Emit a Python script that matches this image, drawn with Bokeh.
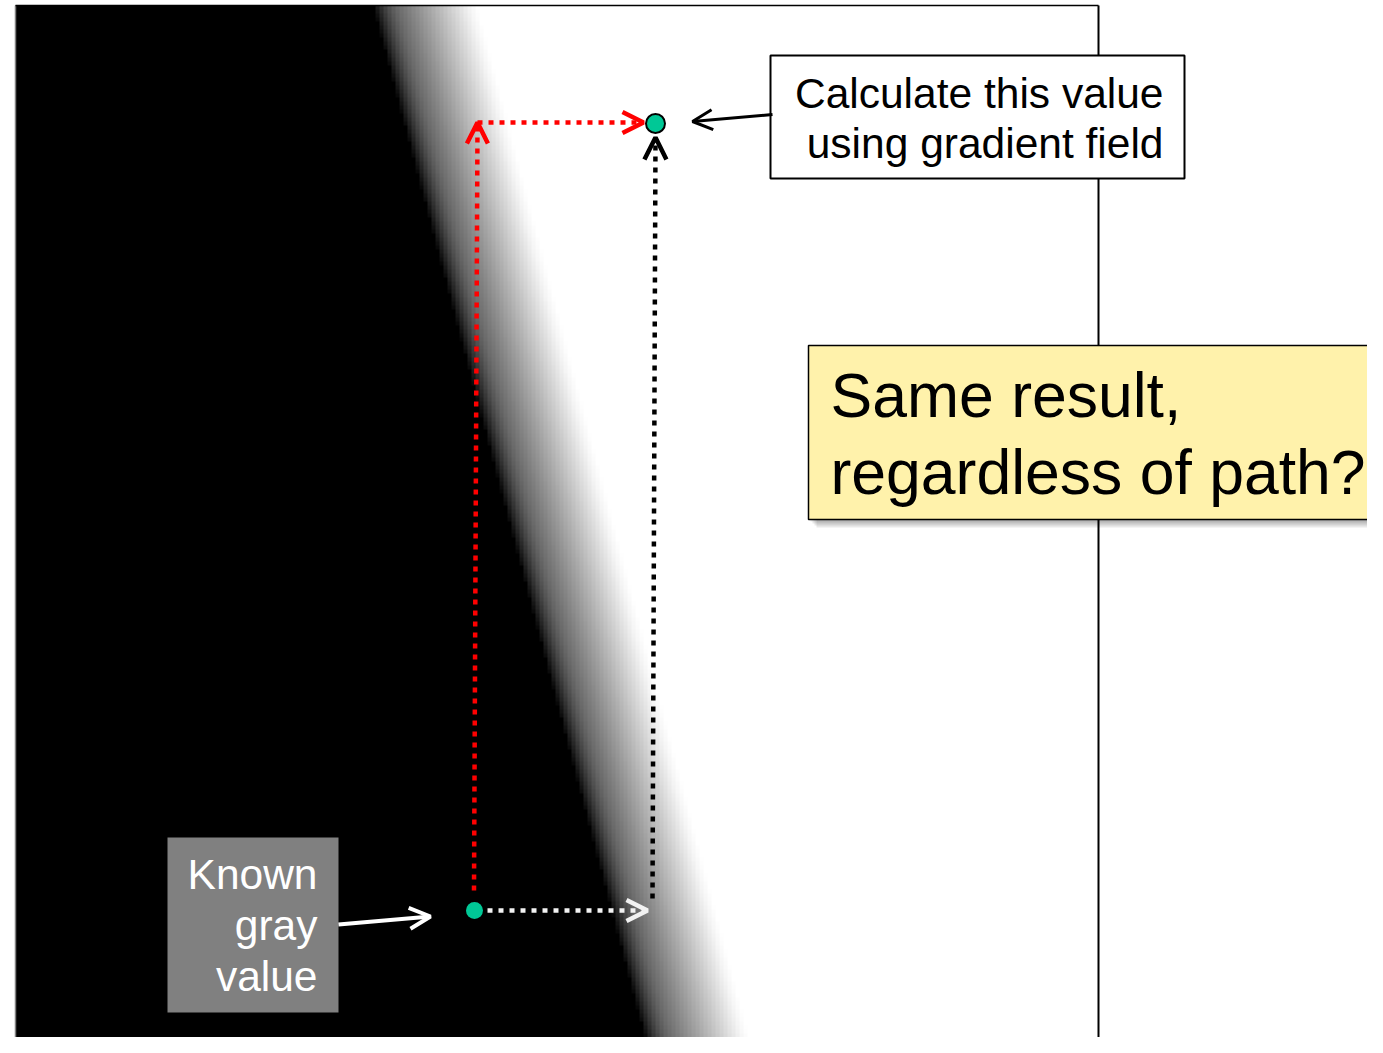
import numpy as np
from bokeh.plotting import figure
from bokeh.models import Range1d, Arrow, OpenHead, LinearColorMapper
from bokeh.core.properties import value
from bokeh.embed import file_html
from bokeh.resources import INLINE

# ---------------- data (page pixel units, y measured downward yp) ----------------
PAGE_H = 1053
frame_x = [15, 1098]          # image frame left / right
frame_yp = [5, 1053]          # image frame top / bottom
edge_start_x = [373, 649]     # x where the dark->light ramp starts, at frame top / bottom
ramp_offsets = [0, 4, 8, 12, 16, 20, 24, 28, 32, 36, 40, 44, 48, 52, 56, 60, 64, 68,
                72, 76, 80, 84, 88, 92, 96, 100, 104]
ramp_levels = [0.03, 0.12, 0.20, 0.27, 0.33, 0.38, 0.42, 0.45, 0.48, 0.51, 0.54, 0.57,
               0.60, 0.63, 0.66, 0.69, 0.72, 0.75, 0.78, 0.81, 0.84, 0.87, 0.90, 0.93,
               0.96, 0.98, 1.00]

known_pt = [474, 910]
target_pt = [655, 123]

red_path_x = [473.5, 477, 643]
red_path_yp = [890, 122, 122]
black_path_x = [652, 655]
black_path_yp = [898, 137]
white_path_x = [487, 647]
white_path_yp = [910, 910]

callout_box = [770, 1184, 55, 178]          # left, right, top, bottom
callout_lines = ["Calculate this value", "using gradient field"]
callout_text_x = 1163
callout_baselines = [107, 157]
callout_arrow = [772, 114, 692, 121]        # x0, yp0, x1, yp1

question_box = [808, 1420, 345, 519]
question_lines = ["Same result,", "regardless of path?"]
question_text_x = 830
question_baselines = [416, 493]

known_box = [167, 338, 837, 1012]
known_lines = ["Known", "gray", "value"]
known_text_x = 317
known_baselines = [888, 939, 990]
known_arrow = [338, 924, 430, 916]

teal = "#00C896"
yellow = "#FFF2AB"
FONT = value("Liberation Sans")
SMALL = 42.5
BIG = 62.5
BASE_SHIFT = 0.34   # renderer places the alphabetic baseline this fraction of size too low


def Y(yp):
    return PAGE_H - yp


def base(yp, size):
    return Y(yp - BASE_SHIFT * size)


W, H = 1367, 1037
p = figure(width=W, height=H,
           x_range=Range1d(0, W), y_range=Range1d(Y(H), Y(0)),
           output_backend="svg", toolbar_location=None, min_border=0,
           x_axis_location=None, y_axis_location=None)
p.grid.visible = False
p.outline_line_color = None
p.background_fill_color = "white"
p.border_fill_color = "white"

# ---------------- gradient image ----------------
bs = 4
nx = (frame_x[1] - frame_x[0]) // bs
ny = (frame_yp[1] - frame_yp[0]) // bs
rows = np.arange(ny)
cols = np.arange(nx)
yp_c = frame_yp[1] - (rows + 0.5) * bs
start = edge_start_x[0] + (yp_c - frame_yp[0]) / (frame_yp[1] - frame_yp[0]) * (edge_start_x[1] - edge_start_x[0])
xc = frame_x[0] + (cols + 0.5) * bs
d = xc[None, :] - start[:, None]
img = np.interp(d, ramp_offsets, ramp_levels, left=0.0, right=1.0)
gray = ["#%02x%02x%02x" % (i, i, i) for i in range(256)]
mapper = LinearColorMapper(palette=gray, low=0, high=1)
p.image(image=[img], x=frame_x[0], y=Y(frame_yp[1]), dw=nx * bs, dh=ny * bs,
        color_mapper=mapper)

# frame borders
p.segment(x0=[frame_x[0]], y0=[Y(frame_yp[1])], x1=[frame_x[0]], y1=[Y(frame_yp[0])],
          line_color="#808080", line_width=1.5)
p.segment(x0=[frame_x[0]], y0=[Y(frame_yp[0])], x1=[frame_x[1]], y1=[Y(frame_yp[0])],
          line_color="black", line_width=1.5)
p.segment(x0=[frame_x[1]], y0=[Y(frame_yp[1])], x1=[frame_x[1]], y1=[Y(frame_yp[0])],
          line_color="black", line_width=2)

# ---------------- dotted paths with arrows ----------------
DASH = "5 6"
p.line(x=red_path_x[:2], y=[Y(v) for v in red_path_yp[:2]], line_color="red",
       line_width=4.5, line_dash=DASH)
p.add_layout(Arrow(end=OpenHead(size=21, line_color="red", line_width=4.5),
                   x_start=red_path_x[0], y_start=Y(red_path_yp[0]) - 1,
                   x_end=red_path_x[1], y_end=Y(red_path_yp[1]),
                   line_alpha=0))
p.add_layout(Arrow(end=OpenHead(size=21, line_color="red", line_width=4.5),
                   x_start=red_path_x[1], y_start=Y(red_path_yp[1]),
                   x_end=red_path_x[2], y_end=Y(red_path_yp[2]),
                   line_color="red", line_width=4.5, line_dash=DASH))
p.add_layout(Arrow(end=OpenHead(size=22, line_color="black", line_width=4.5),
                   x_start=black_path_x[0], y_start=Y(black_path_yp[0]),
                   x_end=black_path_x[1], y_end=Y(black_path_yp[1]),
                   line_color="black", line_width=4.5, line_dash=DASH))
p.add_layout(Arrow(end=OpenHead(size=21, line_color="#f2f2f2", line_width=4.5),
                   x_start=white_path_x[0], y_start=Y(white_path_yp[0]),
                   x_end=white_path_x[1], y_end=Y(white_path_yp[1]),
                   line_color="#f2f2f2", line_width=4.5, line_dash=DASH))

# points
p.scatter(x=[known_pt[0]], y=[Y(known_pt[1])], size=17, marker="circle",
          fill_color=teal, line_color=None)
p.scatter(x=[target_pt[0]], y=[Y(target_pt[1])], size=19, marker="circle",
          fill_color=teal, line_color="black", line_width=2)

# ---------------- callout box ----------------
l, r, t, b = callout_box
p.quad(left=[l], right=[r], top=[Y(t)], bottom=[Y(b)], fill_color="white",
       line_color="black", line_width=2)
p.text(x=[callout_text_x] * 2, y=[base(v, SMALL) for v in callout_baselines],
       text=callout_lines, text_align="right", text_baseline="alphabetic",
       text_font=FONT, text_font_size=value(f"{SMALL}px"), text_color="black")
x0, y0, x1, y1 = callout_arrow
p.add_layout(Arrow(end=OpenHead(size=20, line_color="black", line_width=3),
                   x_start=x0, y_start=Y(y0), x_end=x1, y_end=Y(y1),
                   line_color="black", line_width=3))

# ---------------- question box with shadow ----------------
l, r, t, b = question_box
for k in [2, 4, 6, 8]:
    p.quad(left=[l + k], right=[r], top=[Y(t + k)], bottom=[Y(b + k)],
           fill_color="black", fill_alpha=0.09, line_color=None)
p.quad(left=[l], right=[r], top=[Y(t)], bottom=[Y(b)], fill_color=yellow,
       line_color="black", line_width=1.5)
p.text(x=[question_text_x] * 2, y=[base(v, BIG) for v in question_baselines],
       text=question_lines, text_align="left", text_baseline="alphabetic",
       text_font=FONT, text_font_size=value(f"{BIG}px"), text_color="black")

# ---------------- known value box ----------------
l, r, t, b = known_box
p.quad(left=[l], right=[r], top=[Y(t)], bottom=[Y(b)], fill_color="#808080",
       line_color=None)
p.text(x=[known_text_x] * 3, y=[base(v, SMALL) for v in known_baselines],
       text=known_lines, text_align="right", text_baseline="alphabetic",
       text_font=FONT, text_font_size=value(f"{SMALL}px"), text_color="white")
x0, y0, x1, y1 = known_arrow
p.add_layout(Arrow(end=OpenHead(size=21, line_color="white", line_width=4),
                   x_start=x0, y_start=Y(y0), x_end=x1, y_end=Y(y1),
                   line_color="white", line_width=4))

open("out.html", "w").write(file_html(p, INLINE))
